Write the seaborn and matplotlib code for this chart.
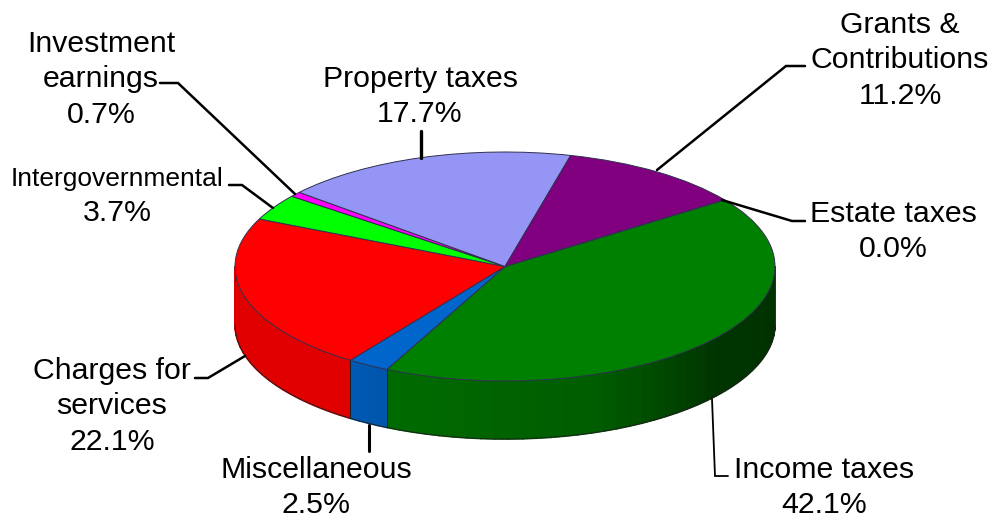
import numpy as np
import matplotlib.pyplot as plt
import seaborn as sns

# slices go clockwise starting from the income taxes wedge
names = ["Income taxes", "Miscellaneous", "Charges for\nservices", "Intergovernmental",
         "Investment\nearnings", "Property taxes", "Grants &\nContributions", "Estate taxes"]
shares = [42.1, 2.5, 22.1, 3.7, 0.7, 17.7, 11.2, 0.0]
colors = ["#008000", "#0066CC", "#FF0000", "#00FF00", "#FF00FF", "#9595F5", "#800080", "#FFFF99"]

sns.set_theme(style="white")
plt.rcParams['font.family'] = ['Liberation Sans', 'DejaVu Sans']

W, H = 996, 519
cx, cy, rx, ry = 505, 266.5, 270, 114.5
depth = 58 / ry
start = 35.6


def px(x, y):
    # picture pixels to the pie's unit coordinates
    return (x - cx) / rx, (cy - y) / ry


fig = plt.figure(figsize=(W / 100, H / 100), dpi=100)
ax = fig.add_axes([0, 0, 1, 1])

# side wall, only the front half can be seen
edges = start - np.cumsum([0] + [s * 3.6 for s in shares])
shade_at = [-205, -125, -116, -70, -40, 0]
shade_val = [0.88, 0.88, 0.84, 0.72, 0.42, 0.38]
for s, c, a, b in zip(shares, colors, edges[:-1], edges[1:]):
    lo, hi = max(b, -180), min(a, 0)
    if lo >= hi:
        continue
    steps = np.linspace(lo, hi, int((hi - lo) / 3) + 2)
    for t0, t1 in zip(steps[:-1], steps[1:]):
        t = np.radians(np.linspace(t0, t1, 4))
        f = np.interp((t0 + t1) / 2, shade_at, shade_val)
        col = np.array(sns.desaturate(c, 1)) * f
        ax.fill(np.r_[np.cos(t), np.cos(t[::-1])],
                np.r_[np.sin(t), np.sin(t[::-1]) - depth],
                color=col, lw=1.2, zorder=1)
    t = np.radians(np.linspace(lo, hi, 100))
    ax.plot(np.cos(t), np.sin(t) - depth, color="#202020", lw=0.7, zorder=2)
    for e in (lo, hi):
        r = np.radians(e)
        if -180 < e < 0:
            ax.plot([np.cos(r)] * 2, [np.sin(r), np.sin(r) - depth], color="#202020", lw=0.7, zorder=2)
for e in (-180, 0):
    r = np.radians(e)
    ax.plot([np.cos(r)] * 2, [0, -depth], color="#303030", lw=0.6, zorder=2)

wedges, _ = ax.pie(shares, colors=colors, startangle=start, counterclock=False, radius=1,
                   wedgeprops=dict(edgecolor="#303050", linewidth=0.7, zorder=3))
ax.set_aspect('auto')
ax.set_xlim(px(0, 0)[0], px(W, 0)[0])
ax.set_ylim(px(0, H)[1], px(0, 0)[1])

# leader lines, label box end to wedge
leaders = [
    ([(712, 399), (715, 476), (728, 476)], 1.3),
    ([(369, 425), (369, 451)], 2.2),
    ([(245, 356), (208, 378), (195, 378)], 1.8),
    ([(273, 208), (242, 185), (229, 185)], 1.8),
    ([(295, 194), (178, 83), (160, 83)], 1.8),
    ([(421, 158), (421, 131)], 2.4),
    ([(657, 170), (786, 66), (805, 66)], 1.8),
    ([(722, 200), (792, 221), (805, 221)], 1.8),
]
for pts, lw in leaders:
    xs, ys = zip(*[px(*p) for p in pts])
    ax.plot(xs, ys, color="black", lw=lw, zorder=4, solid_joinstyle="miter", clip_on=False)

# label centre x and first baseline in picture pixels
spots = [(824, 478), (316, 478), (112, 379), (117, 186), (101, 52), (420, 87), (900, 33), (893, 222)]
for n, s, (lx, ly) in zip(names, shares, spots):
    lines = n.split("\n") + [f"{s:.1f}%"]
    for i, line in enumerate(lines):
        small = line == "Intergovernmental"
        x, y = px(lx, ly + i * 35.3)
        ax.text(x, y, line, ha="center", va="baseline", fontsize=19 if small else 21.8,
                color="black", zorder=5)

fig.savefig("out.png", dpi=100)
